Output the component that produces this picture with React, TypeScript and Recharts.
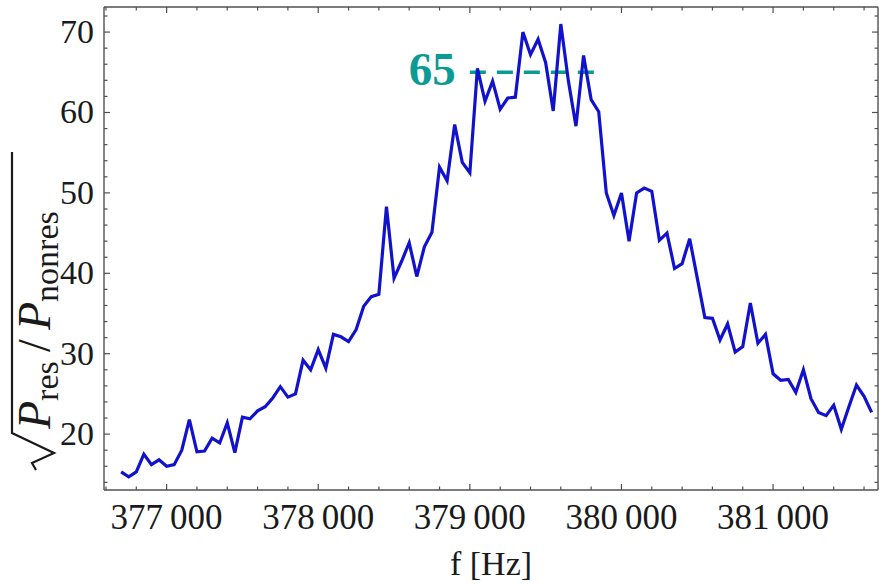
import { LineChart, Line, XAxis, YAxis, ReferenceLine } from "recharts";

// frequency grid [Hz]
const freqs = [
  376700, 376750, 376800, 376850, 376900, 376950, 377000, 377050, 377100, 377150,
  377200, 377250, 377300, 377350, 377400, 377450, 377500, 377550, 377600, 377650,
  377700, 377750, 377800, 377850, 377900, 377950, 378000, 378050, 378100, 378150,
  378200, 378250, 378300, 378350, 378400, 378450, 378500, 378550, 378600, 378650,
  378700, 378750, 378800, 378850, 378900, 378950, 379000, 379050, 379100, 379150,
  379200, 379250, 379300, 379350, 379400, 379450, 379500, 379550, 379600, 379650,
  379700, 379750, 379800, 379850, 379900, 379950, 380000, 380050, 380100, 380150,
  380200, 380250, 380300, 380350, 380400, 380450, 380500, 380550, 380600, 380650,
  380700, 380750, 380800, 380850, 380900, 380950, 381000, 381050, 381100, 381150,
  381200, 381250, 381300, 381350, 381400, 381450, 381500, 381550, 381600, 381650,
];

// sqrt(P_res / P_nonres)
const ratio = [
  15.3, 14.7, 15.3, 17.5, 16.2, 16.8, 16.0, 16.2, 18.0, 21.8,
  17.8, 17.9, 19.5, 18.9, 21.4, 17.7, 22.1, 21.9, 22.9, 23.4,
  24.5, 25.9, 24.6, 25.0, 29.2, 28.0, 30.5, 28.2, 32.4, 32.1,
  31.5, 33.0, 35.9, 37.1, 37.4, 48.3, 39.4, 41.5, 43.8, 39.6,
  43.3, 45.1, 53.2, 51.5, 58.5, 53.8, 52.5, 65.5, 61.4, 63.9,
  60.4, 61.8, 61.9, 70.0, 67.2, 69.1, 66.2, 60.2, 71.0, 63.9,
  58.3, 67.1, 61.6, 60.1, 50.0, 47.2, 50.0, 44.0, 50.0, 50.6,
  50.2, 44.1, 45.0, 40.6, 41.2, 44.3, 39.4, 34.5, 34.4, 31.7,
  33.7, 30.2, 30.9, 36.3, 31.3, 32.4, 27.5, 26.7, 26.8, 25.2,
  28.0, 24.4, 22.7, 22.3, 23.6, 20.6, 23.4, 26.1, 24.7, 22.7,
];

const xTicks = [
  376600, 376800, 377000, 377200, 377400, 377600, 377800, 378000, 378200,
  378400, 378600, 378800, 379000, 379200, 379400, 379600, 379800, 380000,
  380200, 380400, 380600, 380800, 381000, 381200, 381400, 381600,
];
const xLabels = [377000, 378000, 379000, 380000, 381000];

const yTicks = [
  14, 16, 18, 20, 22, 24, 26, 28, 30, 32, 34, 36, 38, 40, 42,
  44, 46, 48, 50, 52, 54, 56, 58, 60, 62, 64, 66, 68, 70, 72,
];
const yLabels = [20, 30, 40, 50, 60, 70];

// annotated level
const markLevel = 65;
const markFrom = 379000;
const markTo = 379850;

const data = freqs.map((f, i) => ({ f, r: ratio[i] }));

const frame = "#505050";
const ink = "#1a1a1a";
const blue = "#1212cc";
const teal = "#0c9a94";
const serif = "'Liberation Serif', 'DejaVu Serif', serif";

const fmtHz = (v: number) => `${Math.floor(v / 1000)}\u2009000`;

const BottomTick = (props: any) => {
  const { x, y, payload } = props;
  const major = xLabels.includes(payload.value);
  return (
    <g>
      <line x1={x} x2={x} y1={y} y2={y - (major ? 6 : 3.5)} stroke={frame} strokeWidth={1.2} />
      {major && (
        <text x={x} y={y + 39} textAnchor="middle" fontFamily={serif} fontSize={35} fill={ink}>
          {fmtHz(payload.value)}
        </text>
      )}
    </g>
  );
};

const TopTick = (props: any) => {
  const { x, y, payload } = props;
  const major = xLabels.includes(payload.value);
  return <line x1={x} x2={x} y1={y} y2={y + (major ? 6 : 3.5)} stroke={frame} strokeWidth={1.2} />;
};

const LeftTick = (props: any) => {
  const { x, y, payload } = props;
  const major = yLabels.includes(payload.value);
  return (
    <g>
      <line x1={x} x2={x + (major ? 6 : 3.5)} y1={y} y2={y} stroke={frame} strokeWidth={1.2} />
      {major && (
        <text x={x - 10} y={y + 11} textAnchor="end" fontFamily={serif} fontSize={34} fill={ink}>
          {payload.value}
        </text>
      )}
    </g>
  );
};

const RightTick = (props: any) => {
  const { x, y, payload } = props;
  const major = yLabels.includes(payload.value);
  return <line x1={x} x2={x - (major ? 6 : 3.5)} y1={y} y2={y} stroke={frame} strokeWidth={1.2} />;
};

const YTitle = () => (
  <g transform="translate(50,471) rotate(-90)">
    <path d="M1,-14 L8,-18 L18,4 L38,-38 L319,-38" fill="none" stroke={ink} strokeWidth={2.2} strokeLinejoin="miter" />
    <text x={42} y={0} fontFamily={serif} fontSize={46} fill={ink}>
      <tspan fontStyle="italic">P</tspan>
      <tspan fontSize={34} dy={8}>res</tspan>
      <tspan dy={-8}>{"\u2009/\u2009"}</tspan>
      <tspan fontStyle="italic">P</tspan>
      <tspan fontSize={34} dy={8}>nonres</tspan>
    </text>
  </g>
);

const XTitle = () => (
  <text x={491} y={575} textAnchor="middle" fontFamily={serif} fontSize={34} fill={ink}>
    f [Hz]
  </text>
);

const MarkLabel = (props: any) => {
  const { viewBox } = props;
  return (
    <text
      x={viewBox.x - 14}
      y={viewBox.y + 13}
      textAnchor="end"
      fontFamily={serif}
      fontWeight="bold"
      fontSize={47}
      fill={teal}
    >
      {markLevel}
    </text>
  );
};

export default function App() {
  return (
    <div style={{ position: "absolute", left: 0, top: 0, width: 879, height: 584, background: "#fff" }}>
      <LineChart width={879} height={584} data={data} margin={{ top: 5, right: 0, bottom: 34, left: 44 }}>
        <XAxis
          dataKey="f"
          type="number"
          domain={[376587, 381692]}
          allowDataOverflow
          ticks={xTicks}
          interval={0}
          height={60}
          tickSize={0}
          tickMargin={0}
          tick={<BottomTick />}
          axisLine={{ stroke: frame, strokeWidth: 1.4 }}
          label={{ content: () => <XTitle /> }}
        />
        <XAxis
          xAxisId="top"
          orientation="top"
          dataKey="f"
          type="number"
          domain={[376587, 381692]}
          allowDataOverflow
          ticks={xTicks}
          interval={0}
          height={2}
          tickSize={0}
          tickMargin={0}
          tick={<TopTick />}
          axisLine={{ stroke: frame, strokeWidth: 1.4 }}
        />
        <YAxis
          type="number"
          domain={[13.05, 73.12]}
          allowDataOverflow
          ticks={yTicks}
          interval={0}
          width={60}
          tickSize={0}
          tickMargin={0}
          tick={<LeftTick />}
          axisLine={{ stroke: frame, strokeWidth: 1.4 }}
          label={{ content: () => <YTitle /> }}
        />
        <YAxis
          yAxisId="right"
          orientation="right"
          type="number"
          domain={[13.05, 73.12]}
          allowDataOverflow
          ticks={yTicks}
          interval={0}
          width={1}
          tickSize={0}
          tickMargin={0}
          tick={<RightTick />}
          axisLine={{ stroke: frame, strokeWidth: 1.4 }}
        />
        <ReferenceLine
          segment={[
            { x: markFrom, y: markLevel },
            { x: markTo, y: markLevel },
          ]}
          stroke={teal}
          strokeWidth={3.5}
          strokeDasharray="16 11"
          label={<MarkLabel />}
        />
        <Line
          type="linear"
          dataKey="r"
          stroke={blue}
          strokeWidth={3.2}
          dot={false}
          activeDot={false}
          isAnimationActive={false}
        />
      </LineChart>
    </div>
  );
}
